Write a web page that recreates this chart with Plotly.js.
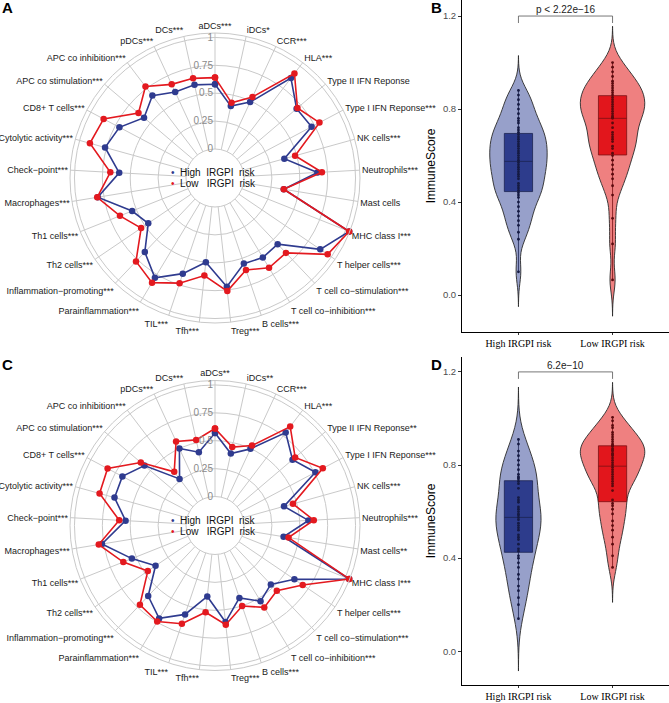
<!DOCTYPE html>
<html>
<head>
<meta charset="utf-8">
<script src="https://cdn.plot.ly/plotly-3.0.1.min.js"></script>
<style>html,body{margin:0;padding:0;background:#fff;}#chart{width:669px;height:703px;}</style>
</head>
<body>
<div id="chart"></div>
<script>
// ---------- Radar data ----------
const categoriesA = ['aDCs***','iDCs*','CCR***','HLA***','Type II IFN Reponse','Type I IFN Reponse***','NK cells***','Neutrophils***','Mast cells','MHC class I***','T helper cells***','T cell co−stimulation***','T cell co−inhibition***','B cells***','Treg***','Tfh***','TIL***','Parainflammation***','Inflammation−promoting***','Th2 cells***','Th1 cells***','Macrophages***','Check−point***','Cytolytic activity***','CD8+ T cells***','APC co stimulation***','APC co inhibition***','pDCs***','DCs***'];
const categoriesC = ['aDCs**','iDCs**','CCR***','HLA***','Type II IFN Reponse**','Type I IFN Reponse***','NK cells***','Neutrophils***','Mast cells**','MHC class I***','T helper cells***','T cell co−stimulation***','T cell co−inhibition***','B cells***','Treg***','Tfh***','TIL***','Parainflammation***','Inflammation−promoting***','Th2 cells***','Th1 cells***','Macrophages***','Check−point***','Cytolytic activity***','CD8+ T cells***','APC co stimulation***','APC co inhibition***','pDCs***','DCs***'];

const highRiskA = [0.58,0.40,0.49,0.865,0.70,0.72,0.385,0.66,0.365,1.035,0.88,0.557,0.572,0.55,0.72,0.50,0.645,0.785,0.655,0.463,0.54,0.805,0.60,0.763,0.71,0.575,0.668,0.59,0.595];
const lowRiskA  = [0.64,0.43,0.54,0.917,0.71,0.80,0.485,0.70,0.365,1.035,0.96,0.665,0.68,0.61,0.76,0.62,0.735,0.835,0.77,0.54,0.657,0.81,0.68,0.904,0.87,0.64,0.77,0.665,0.655];
const highRiskC = [0.57,0.40,0.497,0.787,0.652,0.759,0.382,0.579,0.363,1.035,0.60,0.468,0.532,0.425,0.611,0.38,0.581,0.712,0.611,0.384,0.542,0.767,0.543,0.675,0.68,0.57,0.265,0.50,0.413];
const lowRiskC  = [0.61,0.46,0.53,0.854,0.683,0.834,0.465,0.627,0.408,1.035,0.69,0.546,0.597,0.502,0.635,0.522,0.67,0.745,0.719,0.468,0.625,0.796,0.60,0.814,0.83,0.613,0.344,0.571,0.526];

const radialTicks = [0, 0.25, 0.5, 0.75, 1];
const radialTickText = ['0', '0.25', '0.5', '0.75', '1'];
const seriesNames = ['High\u00a0\u00a0IRGPI\u00a0\u00a0risk', 'Low\u00a0\u00a0\u00a0IRGPI\u00a0\u00a0risk'];

// ---------- Violin data (ImmuneScore samples) ----------
const groups = ['High IRGPI risk', 'Low IRGPI risk'];
const scoreHighB = [0.10,0.24,0.27,0.30,0.32,0.34,0.36,0.38,0.40,0.42,0.43,0.44,0.45,0.46,0.47,0.48,0.50,0.51,0.52,0.53,0.54,0.55,0.56,0.57,0.58,0.59,0.60,0.61,0.62,0.63,0.64,0.65,0.66,0.67,0.68,0.69,0.70,0.71,0.72,0.74,0.75,0.76,0.78,0.80,0.82,0.84,0.86,0.88];
const scoreLowB  = [0.065,0.22,0.33,0.43,0.47,0.50,0.52,0.54,0.56,0.58,0.60,0.61,0.63,0.64,0.66,0.67,0.68,0.69,0.70,0.72,0.74,0.76,0.765,0.77,0.78,0.79,0.80,0.81,0.82,0.83,0.84,0.85,0.86,0.87,0.88,0.89,0.90,0.91,0.92,0.94,0.96,0.98,1.00];
const scoreHighD = [0.14,0.20,0.23,0.26,0.28,0.31,0.33,0.36,0.38,0.40,0.41,0.43,0.44,0.46,0.48,0.49,0.50,0.52,0.53,0.54,0.55,0.565,0.575,0.585,0.59,0.60,0.61,0.62,0.64,0.65,0.66,0.70,0.72,0.73,0.74,0.745,0.75,0.76,0.78,0.80,0.82,0.84,0.86,0.89,0.91];
const scoreLowD  = [0.36,0.41,0.46,0.49,0.52,0.54,0.56,0.59,0.61,0.625,0.635,0.65,0.69,0.71,0.72,0.73,0.74,0.75,0.76,0.77,0.78,0.79,0.80,0.81,0.82,0.83,0.84,0.845,0.85,0.86,0.865,0.87,0.88,0.885,0.89,0.90,0.91,0.92,0.93,0.94,0.96,0.97,0.99,1.005];
const pLabels = ['p &lt; 2.22e−16', '6.2e−10'];
const bracketLevel = 1.2;

// ---------- Styles ----------
const BLUE = '#2f3b8f', RED = '#e3191f';
const GRID = '#c9c9c9';
const SANS = 'Liberation Sans, Arial, sans-serif';
const SERIF = 'Liberation Serif, Times New Roman, serif';
const W = 669, H = 703;

function closeLoop(a){ return a.concat([a[0]]); }

const traces = [];
function radarTraces(cats, hi, lo, sub){
  traces.push({type:'scatterpolar', subplot:sub, r:closeLoop(hi), theta:closeLoop(cats), mode:'lines+markers',
    line:{color:BLUE,width:1.6}, marker:{color:BLUE,size:6.5}, showlegend:false, hoverinfo:'skip'});
  traces.push({type:'scatterpolar', subplot:sub, r:closeLoop(lo), theta:closeLoop(cats), mode:'lines+markers',
    line:{color:RED,width:1.6}, marker:{color:RED,size:6.5}, showlegend:false, hoverinfo:'skip'});
}
radarTraces(categoriesA, highRiskA, lowRiskA, 'polar');
radarTraces(categoriesC, highRiskC, lowRiskC, 'polar2');

const violinStyle = [
  {fill:'#97a0ca', box:'#2d3c8c', boxLine:'#1c2350', pt:'#151a42'},
  {fill:'#ef8080', box:'#e2161c', boxLine:'#7a1014', pt:'#5b0a0e'}
];
function violinTraces(samples, xa, ya, bws, widths){
  samples.forEach((d, i) => {
    const xs = d.map(() => groups[i]);
    const bw = bws[i];
    traces.push({type:'violin', xaxis:xa, yaxis:ya, x:xs, y:d, fillcolor:violinStyle[i].fill, opacity:1,
      line:{color:'#2a2a2a', width:0.9}, points:false, box:{visible:false}, meanline:{visible:false},
      bandwidth:bw, spanmode:'manual', span:[Math.min(...d)-3*bw, Math.max(...d)+3*bw],
      scalemode:'width', width:widths[i], showlegend:false, hoverinfo:'skip'});
  });
  samples.forEach((d, i) => {
    traces.push({type:'box', xaxis:xa, yaxis:ya, x:d.map(() => groups[i]), y:d, width:0.3,
      fillcolor:violinStyle[i].box, line:{color:violinStyle[i].boxLine, width:0.8}, boxpoints:false,
      whiskerwidth:0, showlegend:false, hoverinfo:'skip'});
  });
  samples.forEach((d, i) => {
    traces.push({type:'scatter', xaxis:xa, yaxis:ya, x:d.map(() => groups[i]), y:d, mode:'markers',
      marker:{color:violinStyle[i].pt, size:2.8}, showlegend:false, hoverinfo:'skip'});
  });
}
violinTraces([scoreHighB, scoreLowB], 'x', 'y', [0.05, 0.052], [0.61, 0.685]);
violinTraces([scoreHighD, scoreLowD], 'x2', 'y2', [0.075, 0.05], [0.48, 0.685]);

function polarLayout(ydom){
  return {
    domain:{x:[70/W, 360/W], y:ydom},
    hole:0.2,
    bgcolor:'rgba(0,0,0,0)',
    angularaxis:{type:'category', rotation:90, direction:'clockwise', showgrid:true, gridcolor:GRID, gridwidth:1,
      showline:true, linecolor:GRID, linewidth:1, ticks:'', tickfont:{family:SANS, size:9, color:'#1a1a1a'}},
    radialaxis:{range:[0,1.04], tickvals:radialTicks, ticktext:radialTickText, angle:90, side:'counterclockwise',
      tickangle:90, showline:false, ticks:'', gridcolor:GRID, gridwidth:1, tickfont:{family:SANS, size:10, color:'#8a8a8a'}}
  };
}
function violinX(dom){
  return {domain:dom, type:'category', categoryarray:groups, range:[-0.6,1.6], showline:true, linecolor:'#000', linewidth:1,
    ticks:'outside', ticklen:2, tickcolor:'#333', tickfont:{family:SERIF, size:10, color:'#000'}, showgrid:false, zeroline:false};
}
function violinY(dom, rng){
  return {domain:dom, range:rng, tickvals:[0,0.4,0.8,1.2], tickformat:'.1f', showline:true, linecolor:'#000', linewidth:1,
    ticks:'outside', ticklen:3, tickcolor:'#333', tickfont:{family:SANS, size:9.5, color:'#4d4d4d'},
    title:{text:'ImmuneScore', font:{family:SANS, size:12, color:'#000'}, standoff:4}, showgrid:false, zeroline:false};
}

const shapes = [];
const annotations = [];
[['x','y',0],['x2','y2',1]].forEach(([xa, ya, k]) => {
  const ln = {color:'#555', width:0.8};
  shapes.push({type:'line', xref:xa, yref:ya, x0:0, x1:1, y0:bracketLevel, y1:bracketLevel, line:ln});
  shapes.push({type:'line', xref:xa, yref:ya, x0:0, x1:0, y0:bracketLevel, y1:bracketLevel-0.03, line:ln});
  shapes.push({type:'line', xref:xa, yref:ya, x0:1, x1:1, y0:bracketLevel, y1:bracketLevel-0.03, line:ln});
  annotations.push({xref:xa, yref:ya, x:0.5, y:bracketLevel, text:pLabels[k], showarrow:false, yanchor:'bottom',
    yshift:-1, font:{family:SANS, size:10, color:'#222'}});
});

// panel letters
[['A',0.0,1.004],['B',0.641,1.004],['C',0.0,0.4966],['D',0.641,0.4966]].forEach(([t,x,y]) => {
  annotations.push({xref:'paper', yref:'paper', x:x, y:y, xanchor:'left', yanchor:'top', text:'<b>'+t+'</b>',
    showarrow:false, font:{family:SANS, size:15, color:'#000'}});
});

// in-plot legends for the radars
function radarLegend(ycenterPx){
  const rows = [[BLUE, seriesNames[0], -5.5], [RED, seriesNames[1], 5.5]];
  rows.forEach(([c, name, dy]) => {
    annotations.push({xref:'paper', yref:'paper', x:169/W, y:1-(ycenterPx+dy)/H, xanchor:'left', yanchor:'middle',
      text:'<span style="color:'+c+'">•</span>\u00a0\u00a0'+name, showarrow:false, font:{family:SANS, size:10, color:'#111'}});
  });
}
radarLegend(178);
radarLegend(525.5);

const layout = {
  width:W, height:H, margin:{l:0,r:0,t:0,b:0}, paper_bgcolor:'#fff', plot_bgcolor:'#fff',
  showlegend:false, violinmode:'overlay', boxmode:'overlay',
  polar:polarLayout([1-323/H, 1-33/H]),
  polar2:polarLayout([1-670.5/H, 1-380.5/H]),
  xaxis:violinX([462/W, 1]), yaxis:violinY([1-332/H, 1], [-0.159, 1.269]),
  xaxis2:Object.assign(violinX([462/W, 1]), {anchor:'y2'}),
  yaxis2:Object.assign(violinY([1-685/H, 1-357/H], [-0.145, 1.264]), {anchor:'x2'}),
  shapes:shapes, annotations:annotations
};
layout.xaxis.anchor = 'y';
layout.yaxis.anchor = 'x';

Plotly.newPlot('chart', traces, layout, {staticPlot:true, displayModeBar:false});
</script>
</body>
</html>
